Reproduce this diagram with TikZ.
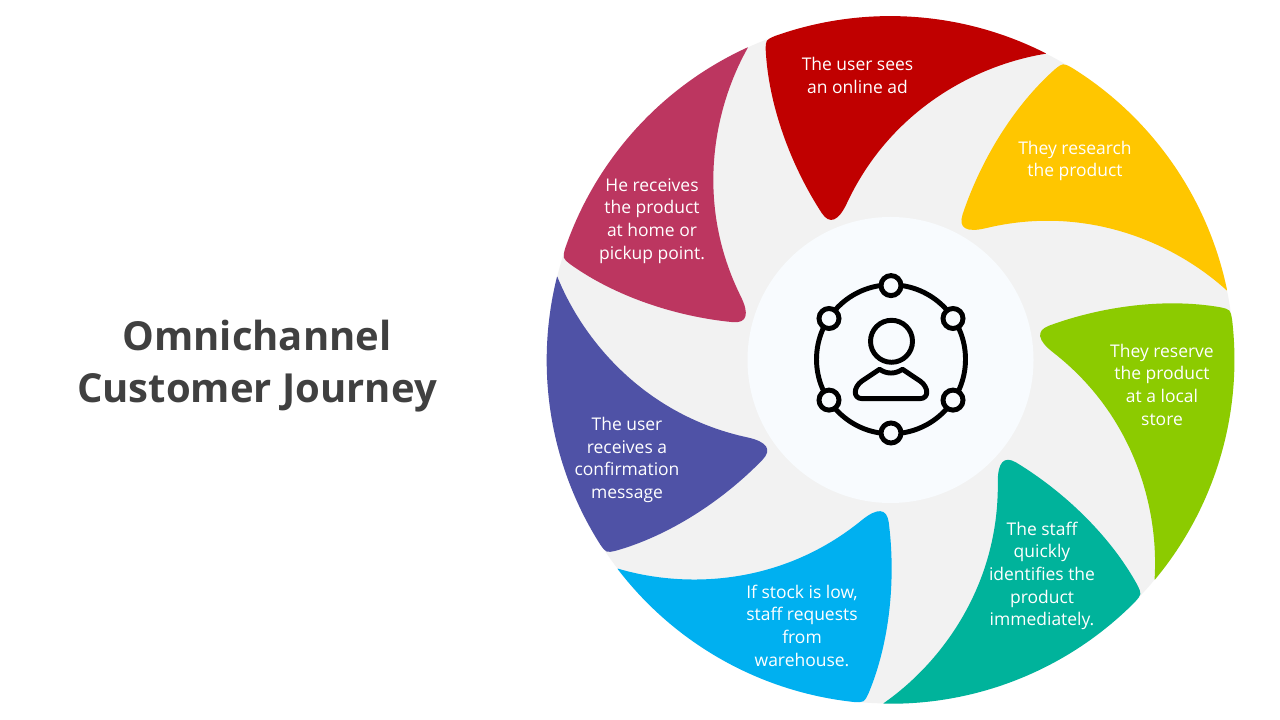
\documentclass[tikz,border=0pt]{standalone}
\usepackage{fontspec}
\setmainfont{Open Sans}
\definecolor{ringgray}{HTML}{F2F2F2}
\definecolor{hubblue}{HTML}{F8FBFE}
\definecolor{adred}{HTML}{C00000}
\definecolor{researchyellow}{HTML}{FFC600}
\definecolor{reservegreen}{HTML}{8CCB00}
\definecolor{staffteal}{HTML}{00B39B}
\definecolor{stockblue}{HTML}{00B0F0}
\definecolor{confirmindigo}{HTML}{4F52A6}
\definecolor{homecrimson}{HTML}{BC3660}
\definecolor{titlegray}{HTML}{404040}
\newcommand{\petal}[2]{%
	\fill[#1,rotate=#2] (155.4,306.3)
		.. controls (85,295) and (0,250) .. (-43.5,157)
		.. controls (-52.1,138.6) and (-60.9,135.1) .. (-68.8,147)
		.. controls (-100,195) and (-122,255) .. (-124.8,310)
		.. controls (-124.8,320) .. (-115.5,324)
		arc[start angle=109.6,end angle=63.1,radius=343.5] -- cycle;}
\tikzset{
	steptext/.style={text=white,align=center,font=\fontsize{13.1}{17}\selectfont},
	titletext/.style={text=titlegray,align=center,font=\fontsize{30}{39}\selectfont\bfseries},
	iconline/.style={line width=3.7pt,draw=black},
	iconring/.style={iconline,fill=hubblue}
}
\begin{document}
\begin{tikzpicture}[x=0.75pt,y=0.75pt]
	\useasboundingbox (0,0) rectangle (1280,720);
	\fill[white] (0,0) rectangle (1280,720);
	\begin{scope}[shift={(890.5,360)}]
		\fill[ringgray] (0,0) circle (343.5);
		\petal{adred}{0}
		\petal{researchyellow}{-51.43}
		\petal{reservegreen}{-102.86}
		\petal{staffteal}{-154.29}
		\petal{stockblue}{-205.71}
		\petal{confirmindigo}{-257.14}
		\petal{homecrimson}{-308.57}
		\fill[hubblue] (0,0) circle (143);
	\end{scope}
	\begin{scope}[shift={(891,360.7)}]
		\draw[iconline] (0,0) circle (74.5);
		\draw[iconring] (0,73.7) circle (10);
		\draw[iconring] (0,-73.7) circle (10);
		\draw[iconring] (-62,40.8) circle (10);
		\draw[iconring] (62,40.8) circle (10);
		\draw[iconring] (-62,-40.8) circle (10);
		\draw[iconring] (62,-40.8) circle (10);
		\draw[iconline] (0.5,18) circle (21);
		\draw[iconline,line join=round] (-11.5,-10)
			.. controls (-4,-15) and (4,-15) .. (11.5,-10)
			-- (29,-21.7)
			.. controls (38,-28) and (38,-39.3) .. (29,-39.3)
			-- (-29,-39.3)
			.. controls (-38,-39.3) and (-38,-28) .. (-29,-21.7)
			-- cycle;
	\end{scope}
	\node[titletext] (title) at (257,354) {Omnichannel\\Customer Journey};
	\node[steptext] (seesad) at (857.5,644.5) {The user sees\\an online ad};
	\node[steptext] (research) at (1075,559) {They research\\the product};
	\node[steptext] (reserve) at (1162,335.5) {They reserve\\the product\\at a local\\store};
	\node[steptext] (identify) at (1042,144) {The staff\\quickly\\identifies the\\product\\immediately.};
	\node[steptext] (request) at (802,94.5) {If stock is low,\\staff requests\\from\\warehouse.};
	\node[steptext] (confirm) at (627,260) {The user\\receives a\\confirmation\\message};
	\node[steptext] (receive) at (652,499) {He receives\\the product\\at home or\\pickup point.};
\end{tikzpicture}
\end{document}
